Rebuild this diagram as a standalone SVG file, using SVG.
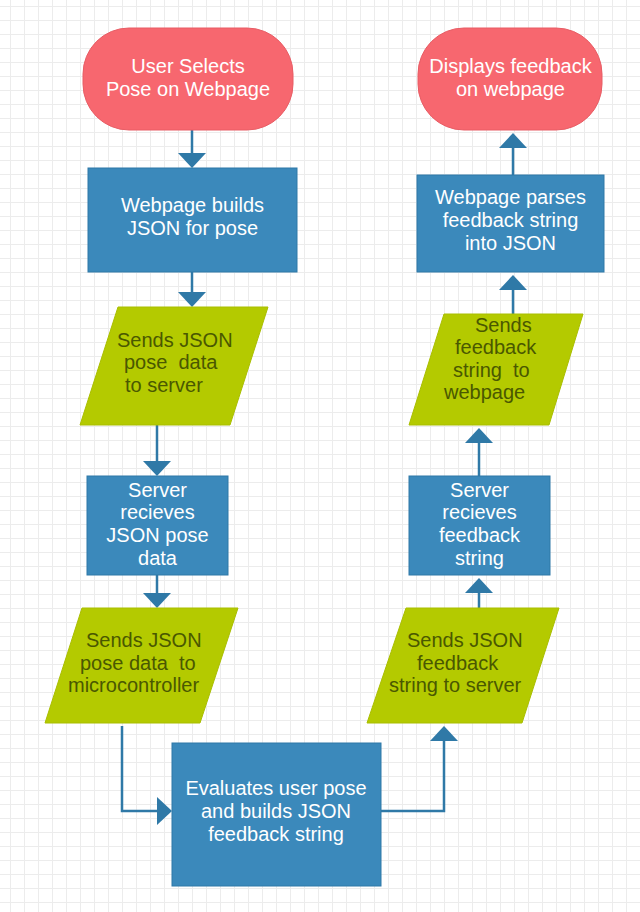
<svg xmlns="http://www.w3.org/2000/svg" width="640" height="912" viewBox="0 0 640 912">
  <defs>
    <!-- light background grid, 14px cells -->
    <pattern id="grid" x="10" y="6" width="14" height="14" patternUnits="userSpaceOnUse">
      <path d="M0.5 0 V14 M0 0.5 H14" fill="none" stroke="#ececec" stroke-width="1"/>
    </pattern>
    <!-- arrowhead: tip sits 10px beyond the end of the line it caps -->
    <marker id="arrow" viewBox="0 0 15 28" refX="5" refY="14" markerWidth="15" markerHeight="28" markerUnits="userSpaceOnUse" orient="auto">
      <path d="M0 0 L15 14 L0 28 Z" fill="#2f79a7"/>
    </marker>
    <style>
      .terminal { fill: #f7676f; stroke: #e85d65; stroke-width: 1; }
      .process { fill: #3b89bb; stroke: #2f79a7; stroke-width: 1; }
      .io { fill: #b4ca00; stroke: #a9be00; stroke-width: 1; stroke-linejoin: round; }
      .link { fill: none; stroke: #2f79a7; stroke-width: 2.5; marker-end: url(#arrow); }
      text { font-family: "Liberation Sans", Arial, Helvetica, sans-serif; font-size: 20px; }
      .light { fill: #ffffff; text-anchor: middle; }
      .dark { fill: #4a5800; }
    </style>
  </defs>

  <rect width="640" height="912" fill="#ffffff"/>
  <rect width="640" height="912" fill="url(#grid)"/>

  <g id="connectors">
    <path class="link" d="M192 130 V158"/>
    <path class="link" d="M192 272 V297"/>
    <path class="link" d="M157 425 V466"/>
    <path class="link" d="M157 575 V598"/>
    <path class="link" d="M122 726 V811 H162"/>
    <path class="link" d="M381 811 H444 V736"/>
    <path class="link" d="M479 608 V588"/>
    <path class="link" d="M479 476 V438"/>
    <path class="link" d="M513 314 V285"/>
    <path class="link" d="M513 175 V143"/>
  </g>

  <g id="user-selects-pose">
    <rect class="terminal" x="83" y="28" width="210" height="102" rx="46" ry="46"/>
    <text class="light" x="188" y="73">User Selects</text>
    <text class="light" x="188" y="96">Pose on Webpage</text>
  </g>

  <g id="webpage-builds-json">
    <rect class="process" x="88" y="168" width="209" height="104"/>
    <text class="light" x="192.5" y="212">Webpage builds</text>
    <text class="light" x="192.5" y="235">JSON for pose</text>
  </g>

  <g id="sends-pose-to-server">
    <path class="io" d="M118 307 H268 L230 425 H80 Z"/>
    <text class="dark" x="117" y="347">Sends JSON</text>
    <text class="dark" x="124" y="369" xml:space="preserve">pose  data</text>
    <text class="dark" x="125" y="392">to server</text>
  </g>

  <g id="server-receives-pose">
    <rect class="process" x="87" y="476" width="141" height="99"/>
    <text class="light" x="157.5" y="497">Server</text>
    <text class="light" x="157.5" y="519">recieves</text>
    <text class="light" x="157.5" y="542">JSON pose</text>
    <text class="light" x="157.5" y="565">data</text>
  </g>

  <g id="sends-pose-to-microcontroller">
    <path class="io" d="M82 608 H238 L200 723 H45 Z"/>
    <text class="dark" x="86" y="647">Sends JSON</text>
    <text class="dark" x="80" y="670" xml:space="preserve">pose data  to</text>
    <text class="dark" x="68" y="692">microcontroller</text>
  </g>

  <g id="evaluates-pose">
    <rect class="process" x="172" y="743" width="209" height="143"/>
    <text class="light" x="276" y="795">Evaluates user pose</text>
    <text class="light" x="276" y="818">and builds JSON</text>
    <text class="light" x="276" y="841">feedback string</text>
  </g>

  <g id="sends-feedback-to-server">
    <path class="io" d="M406 608 H559 L522 723 H367 Z"/>
    <text class="dark" x="407" y="647">Sends JSON</text>
    <text class="dark" x="417" y="670">feedback</text>
    <text class="dark" x="389" y="692">string to server</text>
  </g>

  <g id="server-receives-feedback">
    <rect class="process" x="409" y="476" width="141" height="99"/>
    <text class="light" x="479.5" y="497">Server</text>
    <text class="light" x="479.5" y="519">recieves</text>
    <text class="light" x="479.5" y="542">feedback</text>
    <text class="light" x="479.5" y="565">string</text>
  </g>

  <g id="sends-feedback-to-webpage">
    <path class="io" d="M444 314 H583 L549 425 H409 Z"/>
    <text class="dark" x="475" y="332">Sends</text>
    <text class="dark" x="455" y="354">feedback</text>
    <text class="dark" x="453" y="377" xml:space="preserve">string  to</text>
    <text class="dark" x="444" y="399">webpage</text>
  </g>

  <g id="webpage-parses-feedback">
    <rect class="process" x="417" y="175" width="187" height="97"/>
    <text class="light" x="510.5" y="204">Webpage parses</text>
    <text class="light" x="510.5" y="227">feedback string</text>
    <text class="light" x="510.5" y="250">into JSON</text>
  </g>

  <g id="displays-feedback">
    <rect class="terminal" x="418" y="28" width="184" height="102" rx="46" ry="46"/>
    <text class="light" x="510.5" y="73">Displays feedback</text>
    <text class="light" x="510.5" y="96">on webpage</text>
  </g>
</svg>
